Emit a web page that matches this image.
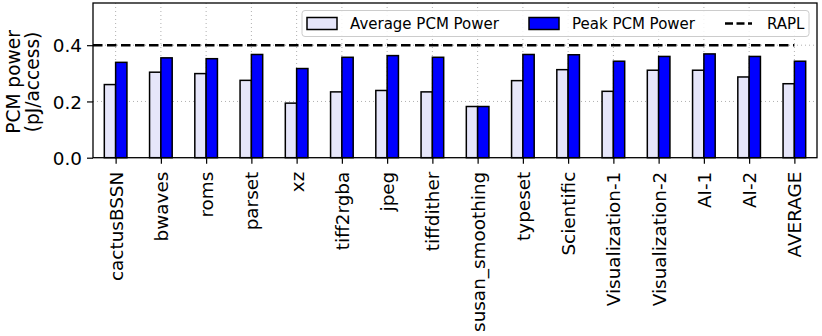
<!DOCTYPE html>
<html>
<head>
<meta charset="utf-8">
<script src="https://cdn.jsdelivr.net/npm/d3@7"></script>
<style>
  body { margin: 0; background: #fff; }
  svg { display: block; }
  svg text { font-family: "DejaVu Sans"; }
</style>
</head>
<body>
<div id="chart"></div>
<script>
const categories = [
  "cactusBSSN", "bwaves", "roms", "parset", "xz", "tiff2rgba", "jpeg",
  "tiffdither", "susan_smoothing", "typeset", "Scientific", "Visualization-1",
  "Visualization-2", "AI-1", "AI-2", "AVERAGE",
];
const averagePower = [
  0.26, 0.304, 0.299, 0.275, 0.194, 0.234, 0.239, 0.234, 0.182, 0.274,
  0.313, 0.236, 0.311, 0.311, 0.287, 0.263,
];
const peakPower = [
  0.339, 0.355, 0.352, 0.367, 0.317, 0.357, 0.363, 0.357, 0.182, 0.367,
  0.366, 0.343, 0.36, 0.369, 0.36, 0.343,
];
const raplLimit = 0.4;
const yTicks = [0.0, 0.2, 0.4];
const seriesNames = ["Average PCM Power", "Peak PCM Power", "RAPL"];

const fontFamily = "DejaVu Sans";
const tickFontSize = 18.4;

const drawChart = () => {
  const width = 822;
  const height = 336;
  const plot = { left: 93, right: 817, top: 3, bottom: 157.7 };
  const barWidth = 0.25;

  const svg = d3
    .select("#chart")
    .append("svg")
    .attr("width", width)
    .attr("height", height)
    .attr("font-family", fontFamily);

  const xScale = d3
    .scaleLinear()
    .domain([-0.5, categories.length - 0.5])
    .range([plot.left, plot.right]);

  const yScale = d3
    .scaleLinear()
    .domain([0, 0.55])
    .range([plot.bottom, plot.top]);

  // dotted grid
  const grid = svg.append("g").attr("class", "grid");
  grid
    .selectAll(".vgrid")
    .data(categories)
    .enter()
    .append("line")
    .attr("x1", (d, i) => xScale(i))
    .attr("x2", (d, i) => xScale(i))
    .attr("y1", plot.top)
    .attr("y2", plot.bottom)
    .attr("stroke", "#b0b0b0")
    .attr("stroke-width", 1)
    .attr("stroke-dasharray", "1,3");
  grid
    .selectAll(".hgrid")
    .data(yTicks.slice(1))
    .enter()
    .append("line")
    .attr("x1", plot.left)
    .attr("x2", plot.right)
    .attr("y1", (d) => yScale(d))
    .attr("y2", (d) => yScale(d))
    .attr("stroke", "#b0b0b0")
    .attr("stroke-width", 1)
    .attr("stroke-dasharray", "1,3");

  // bars
  const addBars = (values, offset, fill) => {
    svg
      .append("g")
      .selectAll("rect")
      .data(values)
      .enter()
      .append("rect")
      .attr("x", (d, i) => xScale(i + offset - barWidth / 2))
      .attr("y", (d) => yScale(d))
      .attr("width", xScale(barWidth) - xScale(0))
      .attr("height", (d) => yScale(0) - yScale(d))
      .attr("fill", fill)
      .attr("stroke", "#000")
      .attr("stroke-width", 1.5);
  };
  addBars(averagePower, -barWidth / 2, "#e6e6fa");
  addBars(peakPower, barWidth / 2, "#0000ff");

  // RAPL line
  svg
    .append("line")
    .attr("x1", xScale(-0.5))
    .attr("x2", xScale(categories.length - 1))
    .attr("y1", yScale(raplLimit))
    .attr("y2", yScale(raplLimit))
    .attr("stroke", "#000")
    .attr("stroke-width", 2.5)
    .attr("stroke-dasharray", "9.5,4.5");

  // axes
  const xAxis = d3
    .axisBottom(xScale)
    .tickValues(d3.range(categories.length))
    .tickFormat((d) => categories[d])
    .tickSize(6)
    .tickSizeOuter(0);
  const yAxis = d3
    .axisLeft(yScale)
    .tickValues(yTicks)
    .tickFormat(d3.format(".1f"))
    .tickSize(6)
    .tickSizeOuter(0);

  const gx = svg
    .append("g")
    .attr("transform", `translate(0, ${plot.bottom})`)
    .call(xAxis)
    .attr("font-family", fontFamily)
    .attr("font-size", tickFontSize);
  gx.select(".domain").remove();
  gx.selectAll("line").attr("stroke", "#000").attr("stroke-width", 1.2);
  gx.selectAll("text")
    .attr("fill", "#000")
    .attr("transform", "rotate(-90)")
    .attr("text-anchor", "end")
    .attr("dy", "0.35em")
    .attr("x", -14)
    .attr("y", 0);

  const gy = svg
    .append("g")
    .attr("transform", `translate(${plot.left}, 0)`)
    .call(yAxis)
    .attr("font-family", fontFamily)
    .attr("font-size", tickFontSize);
  gy.select(".domain").remove();
  gy.selectAll("line").attr("stroke", "#000").attr("stroke-width", 1.2);
  gy.selectAll("text")
    .attr("fill", "#000")
    .attr("x", -11)
    .attr("dy", "0.36em");

  // frame
  svg
    .append("rect")
    .attr("x", plot.left)
    .attr("y", plot.top)
    .attr("width", plot.right - plot.left)
    .attr("height", plot.bottom - plot.top)
    .attr("fill", "none")
    .attr("stroke", "#000")
    .attr("stroke-width", 1.3);

  // y label
  const ylabel = svg
    .append("text")
    .attr("transform", `translate(20, 82) rotate(-90)`)
    .attr("text-anchor", "middle")
    .attr("font-size", 18.6)
    .attr("fill", "#000");
  ylabel.append("tspan").attr("x", 0).attr("y", 0).text("PCM power");
  ylabel.append("tspan").attr("x", 0).attr("y", 18.5).text("(pJ/access)");

  // legend
  const legend = svg.append("g").attr("class", "legend");
  legend
    .append("rect")
    .attr("x", 302)
    .attr("y", 10.5)
    .attr("width", 507)
    .attr("height", 26)
    .attr("rx", 3)
    .attr("fill", "#fff")
    .attr("fill-opacity", 0.85)
    .attr("stroke", "#cccccc")
    .attr("stroke-width", 1);

  const legendY = 23.5;
  const patches = [
    { x: 307, fill: "#e6e6fa", text: seriesNames[0], tx: 350 },
    { x: 529, fill: "#0000ff", text: seriesNames[1], tx: 572 },
  ];
  patches.forEach((p) => {
    legend
      .append("rect")
      .attr("x", p.x)
      .attr("y", legendY - 6)
      .attr("width", 30)
      .attr("height", 12)
      .attr("fill", p.fill)
      .attr("stroke", "#000")
      .attr("stroke-width", 1.5);
    legend
      .append("text")
      .attr("x", p.tx)
      .attr("y", legendY)
      .attr("dy", "0.36em")
      .attr("font-size", 15)
      .attr("fill", "#000")
      .text(p.text);
  });
  legend
    .append("line")
    .attr("x1", 725)
    .attr("x2", 752)
    .attr("y1", legendY)
    .attr("y2", legendY)
    .attr("stroke", "#000")
    .attr("stroke-width", 2.5)
    .attr("stroke-dasharray", "8,3.5");
  legend
    .append("text")
    .attr("x", 767)
    .attr("y", legendY)
    .attr("dy", "0.36em")
    .attr("font-size", 15)
    .attr("fill", "#000")
    .text(seriesNames[2]);
};

document.addEventListener("DOMContentLoaded", () => {
  drawChart();
});
</script>
</body>
</html>
